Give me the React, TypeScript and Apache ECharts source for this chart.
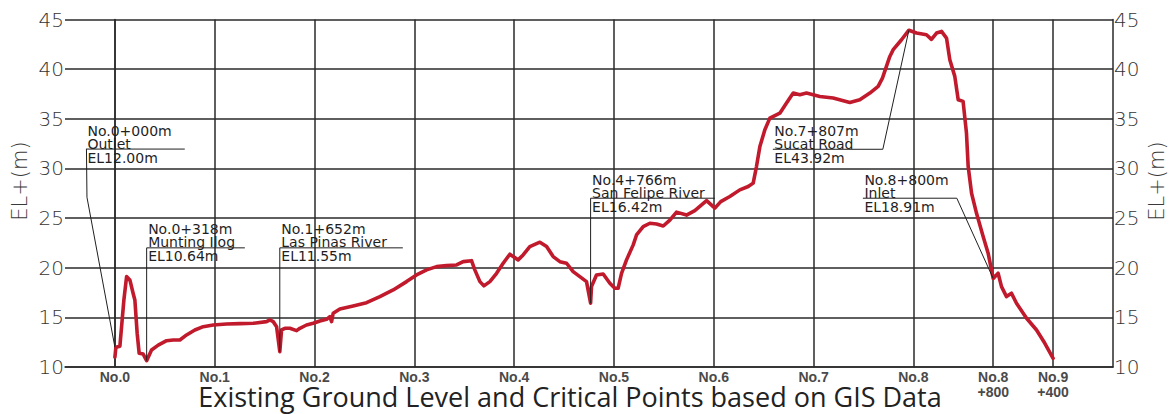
import React, { useEffect, useRef } from "react";
import * as echarts from "echarts";

// Station ticks along the alignment (chainage in metres) and their labels
const stationValues = [0, 1000, 2000, 3000, 4000, 5000, 6000, 7000, 8000, 8800, 9400];
const stationLabels = [
  "No.0", "No.1", "No.2", "No.3", "No.4", "No.5", "No.6", "No.7", "No.8",
  "No.8\n+800", "No.9\n+400",
];

// Elevation axis range (m)
const elevationMin = 10;
const elevationMax = 45;
const elevationStep = 5;

// Existing ground level: [chainage (m), elevation (m)]
const groundProfile: [number, number][] = [
  [0, 11.0], [10, 12.0], [50, 12.1], [90, 16.75], [117, 19.1], [150, 18.77],
  [183, 17.4], [200, 16.75], [223, 13.4], [243, 11.38], [283, 11.3], [318, 10.64],
  [367, 11.71], [434, 12.2], [518, 12.65], [584, 12.72], [651, 12.72], [718, 13.23],
  [801, 13.73], [885, 14.06], [985, 14.23], [1119, 14.33], [1252, 14.37], [1386, 14.4],
  [1519, 14.57], [1553, 14.74], [1586, 14.57], [1620, 14.06], [1652, 11.55], [1670, 13.73],
  [1703, 13.9], [1753, 13.9], [1820, 13.66], [1853, 13.9], [1920, 14.23], [1987, 14.4],
  [2054, 14.64], [2121, 14.8], [2154, 15.07], [2171, 14.57], [2187, 15.41], [2254, 15.85],
  [2387, 16.15], [2521, 16.48], [2655, 17.09], [2788, 17.76], [2922, 18.6], [3022, 19.27],
  [3123, 19.78], [3223, 20.11], [3323, 20.21], [3423, 20.28], [3490, 20.61], [3573, 20.71],
  [3606, 19.78], [3657, 18.6], [3697, 18.17], [3757, 18.6], [3824, 19.44], [3890, 20.45],
  [3957, 21.36], [3990, 21.12], [4040, 20.79], [4090, 21.29], [4157, 22.13], [4258, 22.57],
  [4325, 22.13], [4391, 21.12], [4458, 20.61], [4525, 20.45], [4591, 19.61], [4658, 19.1],
  [4725, 18.6], [4766, 16.42], [4775, 18.1], [4825, 19.27], [4892, 19.37], [4959, 18.44],
  [5009, 17.93], [5042, 17.93], [5076, 19.44], [5126, 20.79], [5193, 22.3], [5226, 23.3],
  [5293, 24.14], [5360, 24.48], [5427, 24.4], [5494, 24.2], [5560, 24.8], [5627, 25.6],
  [5727, 25.3], [5810, 25.75], [5928, 26.75], [6011, 26.0], [6070, 26.66], [6161, 27.17],
  [6261, 27.84], [6345, 28.18], [6395, 28.52], [6428, 30.19], [6462, 32.2], [6512, 33.9],
  [6562, 35.07], [6662, 35.57], [6729, 36.58], [6796, 37.59], [6862, 37.42], [6929, 37.59],
  [7063, 37.25], [7196, 37.09], [7363, 36.65], [7463, 36.92], [7564, 37.59], [7647, 38.26],
  [7690, 39.1], [7764, 41.28], [7798, 41.96], [7881, 42.96], [7955, 43.92], [8031, 43.64],
  [8131, 43.47], [8181, 43.0], [8232, 43.64], [8282, 43.8], [8332, 43.13], [8365, 40.95],
  [8415, 39.27], [8449, 36.92], [8498, 36.75], [8532, 33.56], [8549, 30.19], [8583, 27.5],
  [8632, 25.5], [8699, 23.14], [8749, 21.46], [8800, 18.91], [8849, 19.44], [8883, 18.1],
  [8933, 17.09], [8983, 17.43], [9033, 16.42], [9134, 14.91], [9234, 13.73], [9317, 12.39],
  [9400, 10.88],
];

// Critical points along the route
const criticalStations = [0, 318, 1652, 4766, 7955, 8800];
const criticalElevations = [12.0, 10.64, 11.55, 16.42, 43.92, 18.91];
const criticalChainage = ["No.0+000m", "No.0+318m", "No.1+652m", "No.4+766m", "No.7+807m", "No.8+800m"];
const criticalNames = ["Outlet", "Munting Ilog", "Las Pinas River", "San Felipe River", "Sucat Road", "Inlet"];

// Callout placement in axis units: rule line from x0 to x1 at elevation ruleY,
// and the bend points of the leader running from the rule to the critical point.
const calloutLayout = [
  { x0: -290, x1: 700, ruleY: 31.95, bends: [[-285, 31.95], [-280, 27.1]] },
  { x0: 318, x1: 1302, ruleY: 22.0, bends: [[318, 22.0]] },
  { x0: 1652, x1: 2885, ruleY: 22.0, bends: [[1652, 22.0]] },
  { x0: 4766, x1: 6011, ruleY: 27.0, bends: [[4766, 27.0]] },
  { x0: 6592, x1: 7694, ruleY: 31.93, bends: [[7694, 31.93]] },
  { x0: 7494, x1: 8435, ruleY: 27.0, bends: [[8435, 27.0]] },
];

const INK = "#1f1f1f";
const GRID = "#2a2a2a";
const PROFILE = "#c01a2c";
const CAD_FONT = "DejaVu Sans";

export default function App() {
  const ref = useRef<HTMLDivElement>(null);

  useEffect(() => {
    if (!ref.current) return;
    const chart = echarts.init(ref.current, null, { renderer: "svg" });

    const yAxisCommon = {
      type: "value" as const,
      min: elevationMin,
      max: elevationMax,
      interval: elevationStep,
      axisTick: { show: false },
      axisLine: { show: true, lineStyle: { color: GRID, width: 1.5 } },
      axisLabel: {
        margin: 1,
        fontFamily: CAD_FONT,
        fontSize: 20,
        fontWeight: 200 as any,
        color: "#333333",
      },
    };

    chart.setOption({
      animation: false,
      backgroundColor: "#ffffff",
      grid: { left: 65, right: 59, top: 19.5, bottom: 47, containLabel: false },
      xAxis: {
        type: "value",
        min: -500,
        max: 10000,
        axisLine: { show: true, onZero: false, lineStyle: { color: GRID, width: 1.5 } },
        axisTick: { show: false, customValues: stationValues },
        splitLine: { show: true, lineStyle: { color: GRID, width: 1.5 } },
        axisLabel: {
          customValues: stationValues,
          margin: 2,
          fontFamily: "Liberation Sans",
          fontSize: 14,
          fontWeight: "bold",
          lineHeight: 15,
          color: "#4a4a4a",
          formatter: (v: number) => {
            const i = stationValues.indexOf(v);
            return i >= 0 ? stationLabels[i] : "";
          },
        },
      },
      yAxis: [
        {
          ...yAxisCommon,
          position: "left",
          splitLine: { show: true, lineStyle: { color: GRID, width: 1.5 } },
        },
        {
          ...yAxisCommon,
          position: "right",
          splitLine: { show: false },
        },
      ],
      series: [
        {
          type: "line",
          data: groundProfile,
          xAxisIndex: 0,
          yAxisIndex: 0,
          showSymbol: false,
          symbol: "none",
          lineStyle: { color: PROFILE, width: 3.6, join: "round", cap: "round" },
          z: 5,
        },
      ],
    });

    const toPx = (p: number[]) =>
      chart.convertToPixel({ xAxisIndex: 0, yAxisIndex: 0 }, p) as number[];

    const elements: any[] = [];
    calloutLayout.forEach((c, i) => {
      const [ax, ry] = toPx([c.x0, c.ruleY]);
      const [bx] = toPx([c.x1, c.ruleY]);
      const target = toPx([criticalStations[i], criticalElevations[i]]);
      const pts = c.bends.map((b) => toPx(b));
      pts.push(target);
      elements.push({
        type: "line",
        shape: { x1: ax, y1: ry, x2: bx, y2: ry },
        style: { stroke: INK, lineWidth: 1 },
        z: 10,
      });
      elements.push({
        type: "polyline",
        shape: { points: pts },
        style: { stroke: INK, lineWidth: 1, fill: "none" },
        z: 10,
      });
      const lines = [
        { text: criticalChainage[i], dy: -18.5 },
        { text: criticalNames[i], dy: -5.5 },
        { text: `EL${criticalElevations[i].toFixed(2)}m`, dy: 8.5 },
      ];
      lines.forEach((l) =>
        elements.push({
          type: "text",
          x: ax + 1.5,
          y: ry + l.dy,
          style: {
            text: l.text,
            fill: INK,
            font: `14px "${CAD_FONT}"`,
            lineHeight: 13,
            align: "left",
            verticalAlign: "middle",
          },
          z: 11,
        })
      );
    });

    elements.push(
      {
        type: "text",
        x: 20,
        y: 181,
        rotation: Math.PI / 2,
        style: {
          text: "EL+(m)",
          fill: "#3a3a3a",
          font: `200 21px "${CAD_FONT}"`,
          align: "center",
          verticalAlign: "middle",
        },
      },
      {
        type: "text",
        x: 1157,
        y: 181,
        rotation: Math.PI / 2,
        style: {
          text: "EL+(m)",
          fill: "#3a3a3a",
          font: `200 21px "${CAD_FONT}"`,
          align: "center",
          verticalAlign: "middle",
        },
      },
      {
        type: "text",
        x: 570,
        y: 396,
        style: {
          text: "Existing Ground Level and Critical Points based on GIS Data",
          fill: "#222222",
          font: `27px "Open Sans"`,
          lineHeight: 19,
          align: "center",
          verticalAlign: "middle",
        },
        z: 12,
      }
    );

    chart.setOption({ graphic: elements });

    return () => chart.dispose();
  }, []);

  return (
    <div
      ref={ref}
      style={{ position: "absolute", left: 0, top: 0, width: 1172, height: 414, background: "#fff" }}
    />
  );
}
